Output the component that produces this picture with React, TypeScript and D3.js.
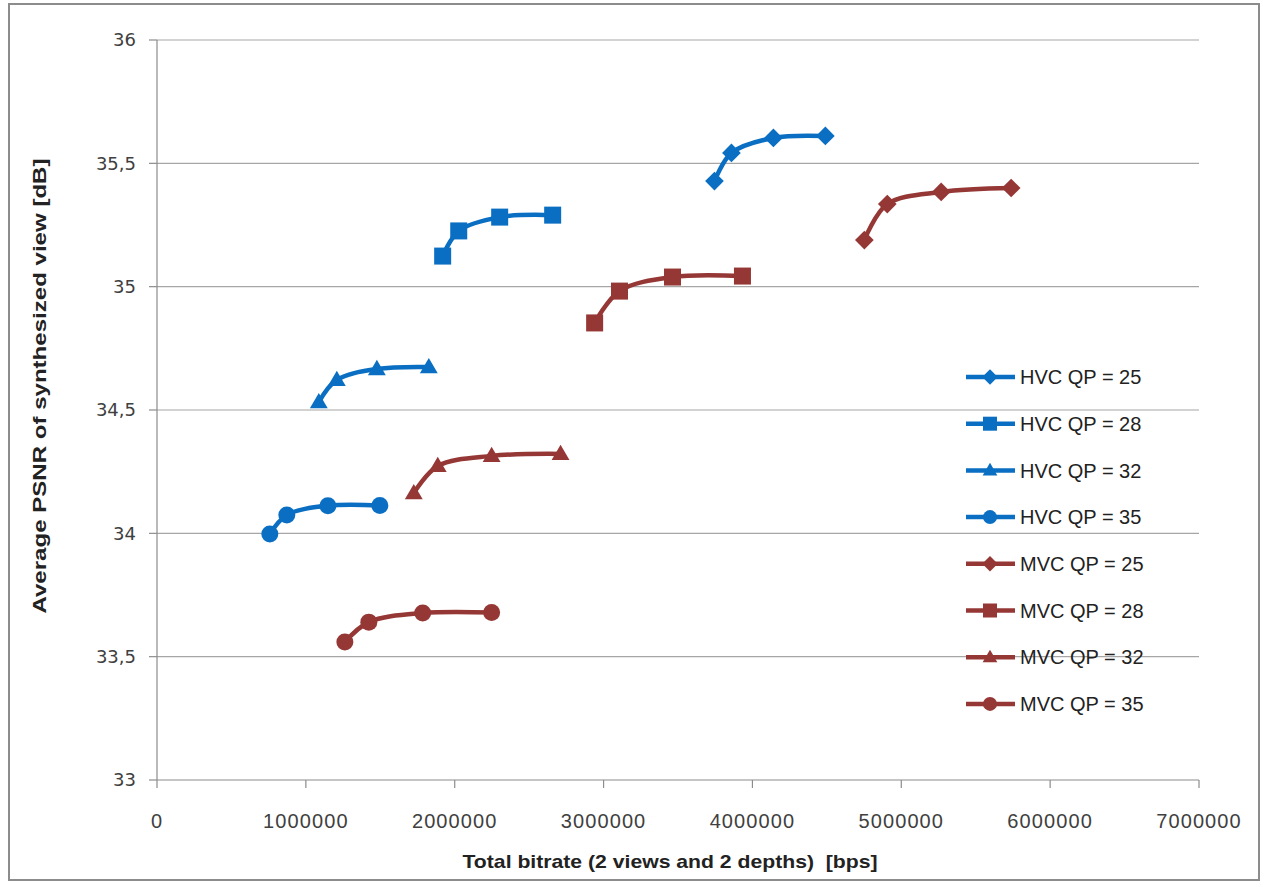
import React from "react";
import * as d3 from "d3";

const seriesNames = [
  "HVC QP = 25", "HVC QP = 28", "HVC QP = 32", "HVC QP = 35",
  "MVC QP = 25", "MVC QP = 28", "MVC QP = 32", "MVC QP = 35",
];
const seriesCodec = ["HVC", "HVC", "HVC", "HVC", "MVC", "MVC", "MVC", "MVC"];
const seriesMarker = ["diamond", "square", "triangle", "circle", "diamond", "square", "triangle", "circle"];

const bitrates: number[][] = [
  [3745000, 3859000, 4141000, 4490000],
  [1919000, 2027000, 2302000, 2658000],
  [1087000, 1208000, 1477000, 1826000],
  [758000, 872000, 1148000, 1497000],
  [4752000, 4906000, 5268000, 5738000],
  [2940000, 3107000, 3463000, 3933000],
  [1725000, 1886000, 2248000, 2711000],
  [1262000, 1423000, 1785000, 2248000],
];
const psnr: number[][] = [
  [35.428, 35.542, 35.603, 35.611],
  [35.124, 35.226, 35.282, 35.29],
  [34.532, 34.622, 34.666, 34.674],
  [33.997, 34.074, 34.112, 34.113],
  [35.189, 35.335, 35.384, 35.4],
  [34.853, 34.982, 35.039, 35.043],
  [34.163, 34.273, 34.314, 34.322],
  [33.559, 33.64, 33.677, 33.679],
];
const xTicks = [0, 1000000, 2000000, 3000000, 4000000, 5000000, 6000000, 7000000];
const yTicks = [33, 33.5, 34, 34.5, 35, 35.5, 36];
const xTitle = "Total bitrate (2 views and 2 depths)  [bps]";
const yTitle = "Average PSNR of synthesized view [dB]";

const codecColor: Record<string, string> = { HVC: "#0a6fc2", MVC: "#953735" };

function Marker({ type, cx, cy, s, color }: { type: string; cx: number; cy: number; s: number; color: string }) {
  if (type === "diamond") {
    const h = s * 0.55;
    return <path d={`M${cx},${cy - h}L${cx + h},${cy}L${cx},${cy + h}L${cx - h},${cy}Z`} fill={color} />;
  }
  if (type === "square") {
    return <rect x={cx - s / 2} y={cy - s / 2} width={s} height={s} fill={color} />;
  }
  if (type === "triangle") {
    const w = s * 1.05;
    const h = s * 0.9;
    return <path d={`M${cx},${cy - h * 0.6}L${cx + w / 2},${cy + h * 0.4}L${cx - w / 2},${cy + h * 0.4}Z`} fill={color} />;
  }
  return <circle cx={cx} cy={cy} r={s / 2} fill={color} />;
}

export default function App() {
  const W = 1264, H = 884;
  const x = d3.scaleLinear().domain([0, 7000000]).range([157, 1199]);
  const y = d3.scaleLinear().domain([33, 36]).range([780, 40]);
  const line = d3.line<[number, number]>()
    .x((d) => x(d[0]))
    .y((d) => y(d[1]))
    .curve(d3.curveCatmullRom.alpha(0.5));
  const fmtY = (v: number) => String(v).replace(".", ",");
  const legendY0 = 377, legendDy = 46.7;

  return (
    <svg width={W} height={H} style={{ position: "absolute", left: 0, top: 0, background: "#fff" }}>
      <rect x={9} y={4} width={1250} height={876} fill="#fff" stroke="#8c8c8c" strokeWidth={2} />
      {yTicks.map((t) => (
        <g key={t}>
          {t !== 33 && <line x1={157} x2={1199} y1={y(t)} y2={y(t)} stroke="#a6a6a6" strokeWidth={1.2} />}
          <line x1={149} x2={157} y1={y(t)} y2={y(t)} stroke="#8c8c8c" strokeWidth={1.2} />
          <text x={136} y={y(t)} dy="0.36em" textAnchor="end" fontFamily="DejaVu Sans" fontSize={18} fill="#404040">{fmtY(t)}</text>
        </g>
      ))}
      <line x1={157} x2={157} y1={40} y2={780} stroke="#8c8c8c" strokeWidth={1.2} />
      <line x1={157} x2={1199} y1={780} y2={780} stroke="#8c8c8c" strokeWidth={1.2} />
      {xTicks.map((t) => (
        <g key={t}>
          <line x1={x(t)} x2={x(t)} y1={780} y2={788} stroke="#8c8c8c" strokeWidth={1.2} />
          <text x={x(t)} y={828} textAnchor="middle" fontFamily="Liberation Sans, Arial, sans-serif" fontSize={20} letterSpacing={1.1} fill="#404040">{String(t)}</text>
        </g>
      ))}
      <text x={670} y={868} textAnchor="middle" textLength={415} lengthAdjust="spacingAndGlyphs" style={{ whiteSpace: "pre" }} fontFamily="Liberation Sans, Arial, sans-serif" fontWeight="bold" fontSize={19} fill="#222">{xTitle}</text>
      <text transform={`translate(46,${386}) rotate(-90)`} textAnchor="middle" textLength={455} lengthAdjust="spacingAndGlyphs" fontFamily="Liberation Sans, Arial, sans-serif" fontWeight="bold" fontSize={19} fill="#222">{yTitle}</text>

      {seriesNames.map((name, i) => {
        const color = codecColor[seriesCodec[i]];
        const pts: [number, number][] = bitrates[i].map((b, j) => [b, psnr[i][j]]);
        return (
          <g key={name}>
            <path d={line(pts) || ""} fill="none" stroke={color} strokeWidth={4.5} strokeLinejoin="round" strokeLinecap="round" />
            {pts.map((p, j) => (
              <Marker key={j} type={seriesMarker[i]} cx={x(p[0])} cy={y(p[1])} s={17} color={color} />
            ))}
          </g>
        );
      })}

      {seriesNames.map((name, i) => {
        const color = codecColor[seriesCodec[i]];
        const ly = legendY0 + i * legendDy;
        return (
          <g key={"lg" + name}>
            <line x1={966} x2={1015} y1={ly} y2={ly} stroke={color} strokeWidth={4.5} />
            <Marker type={seriesMarker[i]} cx={990} cy={ly} s={14} color={color} />
            <text x={1020} y={ly} dy="0.36em" fontFamily="Liberation Sans, Arial, sans-serif" fontSize={20} fill="#222">{name}</text>
          </g>
        );
      })}
    </svg>
  );
}
